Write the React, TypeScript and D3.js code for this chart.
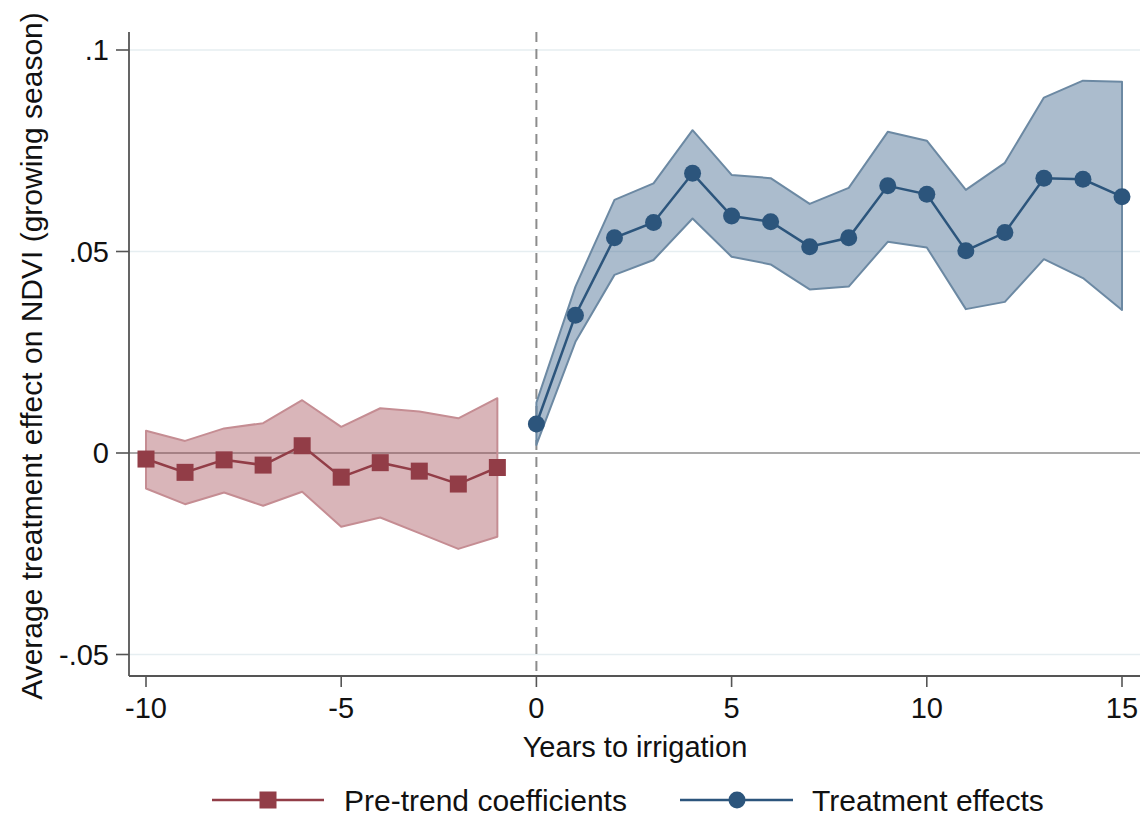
import React, { useEffect, useRef } from 'react';
import * as d3 from 'd3';

// years relative to irrigation
const preYears = [-10, -9, -8, -7, -6, -5, -4, -3, -2, -1];
const preCoef = [-0.0015, -0.0048, -0.0017, -0.003, 0.0018, -0.006, -0.0024, -0.0045, -0.0077, -0.0036];
const preUpper = [0.0055, 0.003, 0.0061, 0.0074, 0.0131, 0.0065, 0.0111, 0.0103, 0.0086, 0.0136];
const preLower = [-0.0088, -0.0127, -0.0098, -0.0131, -0.0096, -0.0183, -0.016, -0.0199, -0.0238, -0.0208];

const postYears = [0, 1, 2, 3, 4, 5, 6, 7, 8, 9, 10, 11, 12, 13, 14, 15];
const postCoef = [0.0072, 0.0342, 0.0534, 0.0572, 0.0694, 0.0588, 0.0574, 0.0512, 0.0534, 0.0663, 0.0642, 0.0502, 0.0547, 0.0682, 0.0679, 0.0636];
const postUpper = [0.0125, 0.0413, 0.0628, 0.0669, 0.0801, 0.069, 0.0682, 0.0618, 0.0658, 0.0797, 0.0775, 0.0653, 0.072, 0.0882, 0.0924, 0.0921];
const postLower = [0.002, 0.0276, 0.0442, 0.0479, 0.0582, 0.0487, 0.0468, 0.0406, 0.0413, 0.0524, 0.051, 0.0357, 0.0375, 0.0481, 0.0434, 0.0355];

const xTicks = [-10, -5, 0, 5, 10, 15];
const yTicks = [-0.05, 0, 0.05, 0.1];
const yTickLabels = ['-.05', '0', '.05', '.1'];

const W = 1142;
const H = 818;
const FONT = "'Liberation Sans', Arial, sans-serif";

const App: React.FC = () => {
  const svgRef = useRef<SVGSVGElement>(null);

  useEffect(() => {
    if (!svgRef.current) return;
    const svg = d3.select(svgRef.current);
    svg.selectAll('*').remove();

    const left = 129;
    const right = 1140;
    const top = 32;
    const bottom = 676;

    const x = d3.scaleLinear().domain([-10, 15]).range([146, 1122]);
    const y = d3.scaleLinear().domain([0, 0.05]).range([453, 251.5]);

    // gridlines
    svg.append('g')
      .selectAll('line')
      .data([-0.05, 0.05, 0.1])
      .join('line')
      .attr('x1', left).attr('x2', right)
      .attr('y1', d => y(d)).attr('y2', d => y(d))
      .attr('stroke', '#e6eef1').attr('stroke-width', 1.5);

    // zero line
    svg.append('line')
      .attr('x1', left).attr('x2', right)
      .attr('y1', y(0)).attr('y2', y(0))
      .attr('stroke', '#8c8c8c').attr('stroke-width', 1.6);

    // dashed vertical at 0
    svg.append('line')
      .attr('x1', x(0)).attr('x2', x(0))
      .attr('y1', top).attr('y2', bottom)
      .attr('stroke', '#8c8c8c').attr('stroke-width', 2)
      .attr('stroke-dasharray', '10,7');

    const drawSeries = (
      years: number[], coef: number[], lo: number[], hi: number[],
      fill: string, edge: string, color: string, shape: 'square' | 'circle'
    ) => {
      const band = d3.area<number>()
        .x((_, i) => x(years[i]))
        .y0((_, i) => y(lo[i]))
        .y1((_, i) => y(hi[i]));
      svg.append('path')
        .datum(years)
        .attr('d', band)
        .attr('fill', fill)
        .attr('stroke', edge)
        .attr('stroke-width', 2)
        .attr('stroke-linejoin', 'round');

      const line = d3.line<number>()
        .x((_, i) => x(years[i]))
        .y((d) => y(d));
      svg.append('path')
        .datum(coef)
        .attr('d', line)
        .attr('fill', 'none')
        .attr('stroke', color)
        .attr('stroke-width', 2.5);

      if (shape === 'square') {
        svg.append('g')
          .selectAll('rect')
          .data(coef)
          .join('rect')
          .attr('x', (_, i) => x(years[i]) - 8.5)
          .attr('y', d => y(d) - 8.5)
          .attr('width', 17).attr('height', 17)
          .attr('fill', color);
      } else {
        svg.append('g')
          .selectAll('circle')
          .data(coef)
          .join('circle')
          .attr('cx', (_, i) => x(years[i]))
          .attr('cy', d => y(d))
          .attr('r', 8.5)
          .attr('fill', color);
      }
    };

    drawSeries(preYears, preCoef, preLower, preUpper, 'rgba(160,70,80,0.4)', '#c58d93', '#923d47', 'square');
    drawSeries(postYears, postCoef, postLower, postUpper, 'rgba(60,100,140,0.43)', '#6c89a3', '#2c557c', 'circle');

    // axes lines
    svg.append('line')
      .attr('x1', left).attr('x2', left).attr('y1', top).attr('y2', bottom)
      .attr('stroke', '#555').attr('stroke-width', 1.8);
    svg.append('line')
      .attr('x1', left).attr('x2', right).attr('y1', bottom).attr('y2', bottom)
      .attr('stroke', '#555').attr('stroke-width', 1.8);

    // y ticks
    const yg = svg.append('g');
    yTicks.forEach((t, i) => {
      yg.append('line')
        .attr('x1', left - 13).attr('x2', left)
        .attr('y1', y(t)).attr('y2', y(t))
        .attr('stroke', '#555').attr('stroke-width', 1.6);
      yg.append('text')
        .attr('x', left - 20).attr('y', y(t))
        .attr('dy', '0.36em')
        .attr('text-anchor', 'end')
        .attr('font-family', FONT).attr('font-size', 29)
        .attr('fill', '#111')
        .text(yTickLabels[i]);
    });

    // x ticks
    const xg = svg.append('g');
    xTicks.forEach(t => {
      xg.append('line')
        .attr('x1', x(t)).attr('x2', x(t))
        .attr('y1', bottom).attr('y2', bottom + 11)
        .attr('stroke', '#555').attr('stroke-width', 1.6);
      xg.append('text')
        .attr('x', x(t)).attr('y', 718)
        .attr('text-anchor', 'middle')
        .attr('font-family', FONT).attr('font-size', 29)
        .attr('fill', '#111')
        .text(String(t));
    });

    // axis titles
    svg.append('text')
      .attr('x', 635).attr('y', 757)
      .attr('text-anchor', 'middle')
      .attr('font-family', FONT).attr('font-size', 29)
      .attr('fill', '#111')
      .text('Years to irrigation');

    svg.append('text')
      .attr('transform', `translate(42,356) rotate(-90)`)
      .attr('text-anchor', 'middle')
      .attr('font-family', FONT).attr('font-size', 30)
      .attr('fill', '#111')
      .text('Average treatment effect on NDVI (growing season)');

    // legend
    const ly = 800;
    const lg = svg.append('g');
    lg.append('line').attr('x1', 212).attr('x2', 324).attr('y1', ly).attr('y2', ly)
      .attr('stroke', '#923d47').attr('stroke-width', 2.5);
    lg.append('rect').attr('x', 268 - 8.5).attr('y', ly - 8.5).attr('width', 17).attr('height', 17)
      .attr('fill', '#923d47');
    lg.append('text').attr('x', 344).attr('y', ly).attr('dy', '0.36em')
      .attr('font-family', FONT).attr('font-size', 30).attr('fill', '#111')
      .text('Pre-trend coefficients');

    lg.append('line').attr('x1', 680).attr('x2', 793).attr('y1', ly).attr('y2', ly)
      .attr('stroke', '#2c557c').attr('stroke-width', 2.5);
    lg.append('circle').attr('cx', 737).attr('cy', ly).attr('r', 8.5)
      .attr('fill', '#2c557c');
    lg.append('text').attr('x', 812).attr('y', ly).attr('dy', '0.36em')
      .attr('font-family', FONT).attr('font-size', 30).attr('fill', '#111')
      .text('Treatment effects');
  }, []);

  return (
    <svg
      ref={svgRef}
      width={W}
      height={H}
      style={{ position: 'absolute', left: 0, top: 0, background: '#fff' }}
    />
  );
};

export default App;
